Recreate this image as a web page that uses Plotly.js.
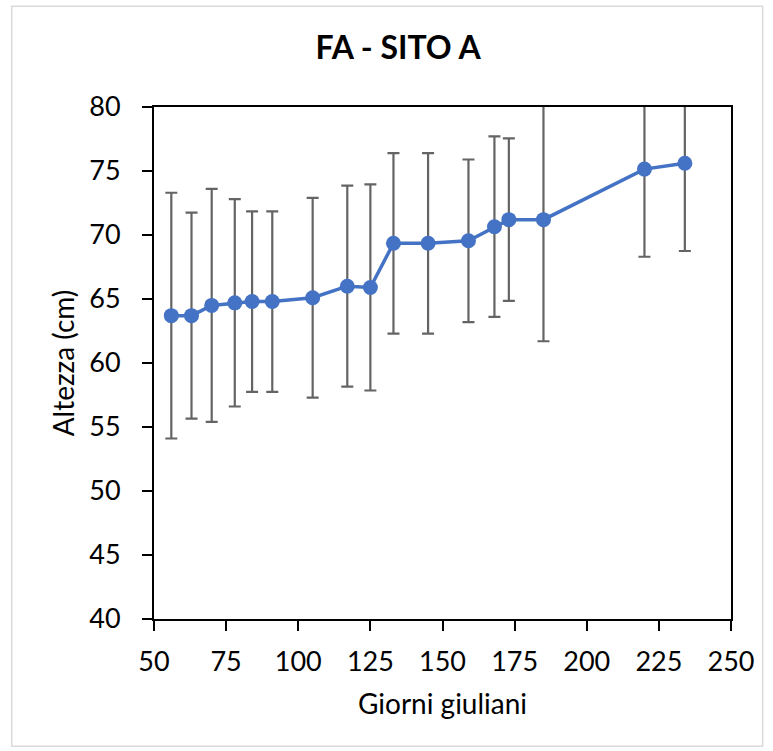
<!DOCTYPE html>
<html>
<head>
<meta charset="utf-8">
<script src="https://cdn.plot.ly/plotly-3.0.1.min.js"></script>
<style>html,body{margin:0;padding:0;background:#fff;}#chart{width:773px;height:751px;}</style>
</head>
<body>
<div id="chart"></div>
<script>
const giorni = [56, 63, 70, 78, 84, 91, 105, 117, 125, 133, 145, 159, 168, 173, 185, 220, 234];
const altezza = [63.7, 63.7, 64.5, 64.7, 64.8, 64.8, 65.1, 66.0, 65.9, 69.35, 69.35, 69.55, 70.65, 71.2, 71.2, 75.15, 75.6];
const devStd = [9.6, 8.05, 9.1, 8.1, 7.05, 7.05, 7.8, 7.85, 8.05, 7.05, 7.05, 6.35, 7.05, 6.35, 9.5, 6.85, 6.85];
const xTicks = [50, 75, 100, 125, 150, 175, 200, 225, 250];
const yTicks = [40, 45, 50, 55, 60, 65, 70, 75, 80];

const font = "Lato, 'Open Sans', sans-serif";

const trace = {
  x: giorni, y: altezza, type: 'scatter', mode: 'lines+markers',
  line: {color: '#4472C4', width: 3.5},
  marker: {color: '#4472C4', size: 15},
  error_y: {type: 'data', array: devStd, visible: true, color: '#646464', thickness: 2.2, width: 6},
  hoverinfo: 'x+y'
};

const layout = {
  width: 773, height: 751,
  margin: {l: 153.5, r: 41.7, t: 106.7, b: 132.3},
  paper_bgcolor: '#ffffff', plot_bgcolor: '#ffffff',
  showlegend: false,
  font: {family: font, color: '#000', size: 27},
  title: {text: '<b>FA - SITO A</b>', font: {family: font, size: 32, color: '#000'},
          xref: 'container', yref: 'container', x: 0.515, y: 0.937, xanchor: 'center', yanchor: 'middle'},
  xaxis: {
    range: [50, 250], tickvals: xTicks, ticktext: xTicks.map(String),
    showgrid: false, zeroline: false, showline: true, linecolor: '#000', linewidth: 2, mirror: true,
    ticks: 'outside', ticklen: 10, tickwidth: 2, tickcolor: '#000', ticklabelstandoff: 8,
    tickfont: {family: font, size: 27, color: '#000'},
    title: {text: 'Giorni giuliani', font: {family: font, size: 28, color: '#000'}, standoff: 18}
  },
  yaxis: {
    range: [40, 80], tickvals: yTicks, ticktext: yTicks.map(String),
    showgrid: false, zeroline: false, showline: true, linecolor: '#000', linewidth: 2, mirror: true,
    ticks: 'outside', ticklen: 10, tickwidth: 2, tickcolor: '#000', ticklabelstandoff: 16,
    tickfont: {family: font, size: 27, color: '#000'},
    title: {text: 'Altezza (cm)', font: {family: font, size: 28, color: '#000'}, standoff: 6}
  },
  shapes: [{
    type: 'rect', xref: 'paper', yref: 'paper',
    x0: (11 - 153.5) / 577.8, x1: (763 - 153.5) / 577.8,
    y0: (618.7 - 746) / 512, y1: (618.7 - 6) / 512,
    line: {color: '#d9d9d9', width: 1.5}, layer: 'below'
  }]
};

Plotly.newPlot('chart', [trace], layout, {displayModeBar: false, staticPlot: true});
</script>
</body>
</html>
